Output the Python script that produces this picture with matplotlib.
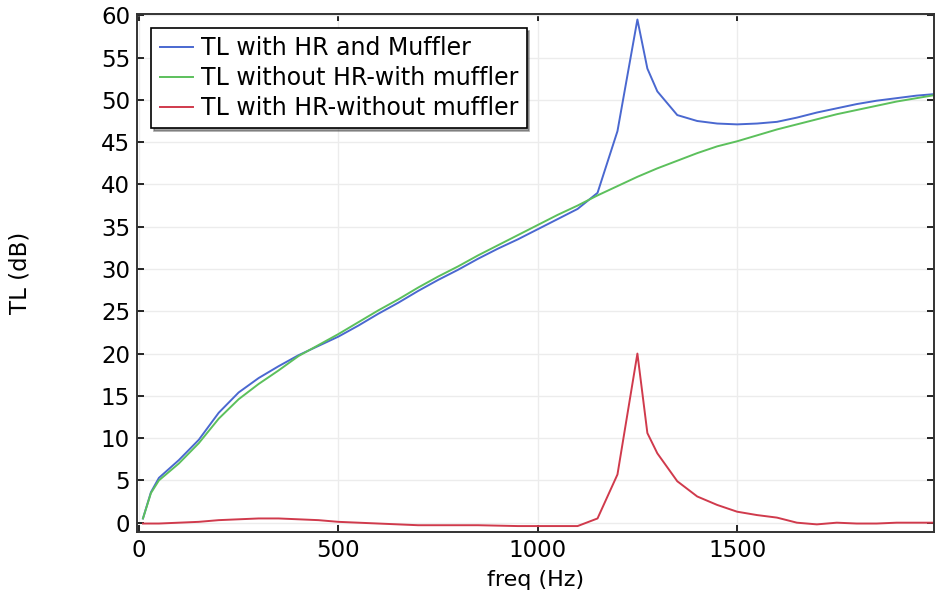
import numpy as np
import matplotlib
matplotlib.use('Agg')
import matplotlib.pyplot as plt

# frequency points (Hz)
freq = [10, 30, 50, 100, 150, 200, 250, 300, 350, 400, 450, 500, 550, 600, 650,
        700, 750, 800, 850, 900, 950, 1000, 1050, 1100, 1150, 1200, 1250, 1275,
        1300, 1350, 1400, 1450, 1500, 1550, 1600, 1650, 1700, 1750, 1800, 1850,
        1900, 1950, 2000]

tl_hr_muffler = [0.5, 3.6, 5.3, 7.4, 9.8, 13.0, 15.4, 17.1, 18.5, 19.8, 20.9,
                 22.0, 23.3, 24.7, 26.0, 27.4, 28.7, 29.9, 31.2, 32.4, 33.5,
                 34.7, 35.9, 37.1, 39.0, 46.3, 59.5, 53.7, 51.0, 48.2, 47.5,
                 47.2, 47.1, 47.2, 47.4, 47.9, 48.5, 49.0, 49.5, 49.9, 50.2,
                 50.5, 50.7]

tl_nohr_muffler = [0.5, 3.5, 5.0, 7.0, 9.4, 12.3, 14.6, 16.4, 18.0, 19.7, 21.0,
                   22.3, 23.7, 25.1, 26.4, 27.8, 29.1, 30.3, 31.6, 32.8, 34.0,
                   35.2, 36.4, 37.5, 38.7, 39.8, 40.9, 41.4, 41.9, 42.8, 43.7,
                   44.5, 45.1, 45.8, 46.5, 47.1, 47.7, 48.3, 48.8, 49.3, 49.8,
                   50.2, 50.6]

tl_hr_nomuffler = [-0.1, -0.1, -0.1, 0.0, 0.1, 0.3, 0.4, 0.5, 0.5, 0.4, 0.3,
                   0.1, 0.0, -0.1, -0.2, -0.3, -0.3, -0.3, -0.3, -0.35, -0.4,
                   -0.4, -0.4, -0.4, 0.5, 5.7, 20.0, 10.6, 8.2, 4.9, 3.1, 2.1,
                   1.3, 0.9, 0.6, 0.0, -0.2, 0.0, -0.1, -0.1, 0.0, 0.0, 0.0]

labels = ['TL with HR and Muffler', 'TL without HR-with muffler',
          'TL with HR-without muffler']
colors = ['#4a68d0', '#5cc05c', '#d03a4c']

fig = plt.figure(figsize=(9.35, 5.94), dpi=100)
ax = fig.add_axes([0.1465, 0.1044, 0.8525, 0.872])

for ys, lab, c in zip([tl_hr_muffler, tl_nohr_muffler, tl_hr_nomuffler], labels, colors):
    ax.plot(freq, ys, color=c, lw=1.4, label=lab)

ax.set_xlim(-5, 1994)
ax.set_ylim(-1.1, 60.15)
ax.set_xticks([0, 500, 1000, 1500])
ax.set_yticks(np.arange(0, 61, 5))
ax.grid(True, color='#ececec', lw=1)
ax.set_axisbelow(True)
ax.tick_params(direction='in', top=True, right=True, labelsize=16.5, length=5, width=1.2, pad=5)
for s in ax.spines.values():
    s.set_linewidth(1.4)
    s.set_color('#333333')

ax.set_xlabel('freq (Hz)', fontsize=16)
ax.xaxis.set_label_coords(0.5, -0.073)
ax.set_ylabel('TL (dB)', fontsize=16.5)
ax.yaxis.set_label_coords(-0.132, 0.5)

leg = ax.legend(loc='upper left', prop={'size': 17}, fancybox=False, shadow=True,
                framealpha=1, edgecolor='black', bbox_to_anchor=(0.018, 0.973),
                borderaxespad=0, handlelength=1.4, handletextpad=0.35,
                borderpad=0.35, labelspacing=0.25)
leg.get_frame().set_linewidth(1.2)

fig.savefig('out.png', dpi=100)
